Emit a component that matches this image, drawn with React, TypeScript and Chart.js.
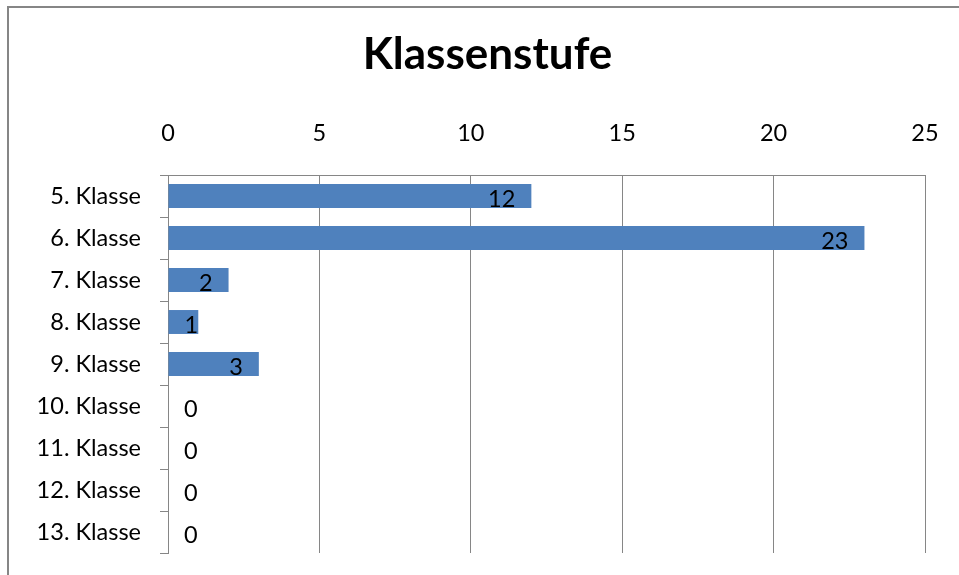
import React, { useEffect, useRef } from "react";
import { Chart, registerables } from "chart.js";

Chart.register(...registerables);

const categories = [
  "5. Klasse",
  "6. Klasse",
  "7. Klasse",
  "8. Klasse",
  "9. Klasse",
  "10. Klasse",
  "11. Klasse",
  "12. Klasse",
  "13. Klasse",
];
const values = [12, 23, 2, 1, 3, 0, 0, 0, 0];
const xMin = 0;
const xMax = 25;
const xStep = 5;
const titleText = "Klassenstufe";

const FONT = "Lato, Carlito, Calibri, sans-serif";
const GRID = "#868686";
const BAR = "#4F81BD";

const framePlugin = {
  id: "frame",
  beforeDraw(chart: any) {
    const ctx = chart.ctx;
    ctx.save();
    ctx.fillStyle = "#ffffff";
    ctx.fillRect(0, 0, chart.width, chart.height);
    ctx.strokeStyle = GRID;
    ctx.lineWidth = 2;
    ctx.beginPath();
    ctx.moveTo(8, chart.height);
    ctx.lineTo(8, 7);
    ctx.lineTo(chart.width, 7);
    ctx.stroke();
    ctx.restore();
  },
  afterDraw(chart: any) {
    const ctx = chart.ctx;
    ctx.save();
    ctx.font = `bold 44px ${FONT}`;
    ctx.fillStyle = "#000";
    ctx.textAlign = "center";
    ctx.textBaseline = "alphabetic";
    ctx.fillText(titleText, 487.5, 69);
    ctx.restore();
  },
};

const labelPlugin = {
  id: "vlabels",
  afterDatasetsDraw(chart: any) {
    const ctx = chart.ctx;
    const meta = chart.getDatasetMeta(0);
    ctx.save();
    ctx.font = `23.5px ${FONT}`;
    ctx.fillStyle = "#000";
    ctx.textAlign = "left";
    ctx.textBaseline = "alphabetic";
    meta.data.forEach((bar: any, i: number) => {
      const { x, y, base } = bar.getProps(["x", "y", "base"], true);
      const txt = String(values[i]);
      const w = ctx.measureText(txt).width;
      let left = x - 16 - w;
      if (left < base + 16) left = base + 16;
      ctx.fillText(txt, left, y + 10.5);
    });
    ctx.restore();
  },
};

export default function App() {
  const ref = useRef<HTMLCanvasElement | null>(null);
  useEffect(() => {
    if (!ref.current) return;
    const chart = new Chart(ref.current, {
      type: "bar",
      data: {
        labels: categories,
        datasets: [
          {
            data: values,
            backgroundColor: BAR,
            borderWidth: 0,
            categoryPercentage: 1,
            barPercentage: 0.57,
          },
        ],
      },
      options: {
        indexAxis: "y",
        responsive: false,
        animation: false,
        events: [],
        layout: { padding: { left: 0, right: 34, top: 0, bottom: 22 } },
        plugins: {
          legend: { display: false },
          tooltip: { enabled: false },
          title: { display: false },
        },
        scales: {
          x: {
            position: "top",
            min: xMin,
            max: xMax,
            ticks: {
              stepSize: xStep,
              color: "#000",
              font: { family: FONT, size: 23.5 },
              padding: 27,
            },
            grid: { color: GRID, drawTicks: false, lineWidth: 1 },
            border: { display: true, color: GRID, width: 1 },
            afterFit: (s: any) => {
              s.height = 175;
              s.paddingLeft = 0;
              s.paddingRight = 0;
            },
          },
          y: {
            ticks: {
              color: "#000",
              font: { family: FONT, size: 23.5 },
              padding: 19,
            },
            grid: {
              drawOnChartArea: false,
              drawTicks: true,
              tickLength: 8,
              color: GRID,
              offset: true,
            },
            border: { display: true, color: GRID, width: 1 },
            afterFit: (s: any) => {
              s.width = 168;
              s.paddingTop = 0;
              s.paddingBottom = 0;
            },
          },
        },
      } as any,
      plugins: [framePlugin, labelPlugin],
    });
    return () => chart.destroy();
  }, []);
  return (
    <div style={{ position: "absolute", left: 0, top: 0, width: 959, height: 575 }}>
      <canvas ref={ref} width={959} height={575} style={{ display: "block" }} />
    </div>
  );
}
